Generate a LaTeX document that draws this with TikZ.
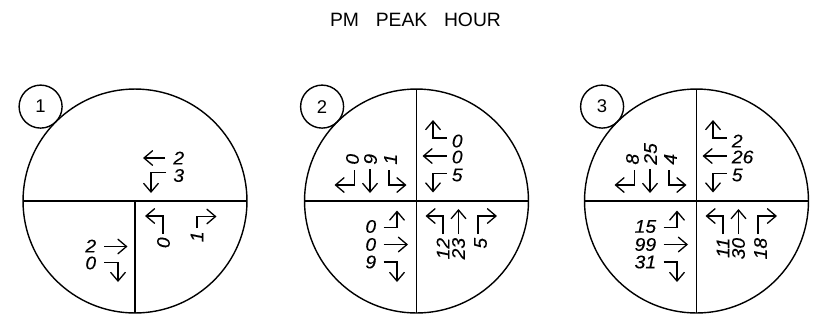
\documentclass[tikz,border=0pt]{standalone}
\usepackage{fontspec}
\setmainfont{Liberation Sans}
\newfontfamily\volfont[FakeStretch=1.06, FakeBold=0.2]{Liberation Sans}
\usetikzlibrary{arrows.meta}

% Turning-movement volumes, one circle per intersection.
% Movement arrows and counts are placed relative to the circle centre.
\tikzset{
  ring/.style={line width=0.8pt},
  mv/.style={line width=0.75pt, -{Straight Barb[length=5pt,width=8.5pt]}},
  vol/.style={font=\volfont\itshape\fontsize{10.4}{12}\selectfont, inner sep=0pt},
  volE/.style={vol, anchor=west},
  volW/.style={vol, anchor=east},
  volN/.style={vol, rotate=90, anchor=west},
  volS/.style={vol, rotate=90, anchor=east},
  tag/.style={circle, draw, line width=0.8pt, minimum size=0.86cm, inner sep=0pt,
              font=\fontsize{10.5}{12}\selectfont},
}

% north leg (southbound): right, through, left
\newcommand{\legNorth}[4]{%
  \draw[mv] (-62,-31) -- (-62,-16) -- (-82,-16);
  \draw[mv] (-46.5,-32) -- (-46.5,-8);
  \draw[mv] (-27.5,-31) -- (-27.5,-16) -- (-10,-16);
  \node[volN] (#1nr) at (-64,-36) {#2};
  \node[volN] (#1nt) at (-46,-36) {#3};
  \node[volN] (#1nl) at (-26,-36) {#4};
}
% east leg (westbound): right, through, left
\newcommand{\legEast}[4]{%
  \draw[mv] (30,-63) -- (16.5,-63) -- (16.5,-81);
  \draw[mv] (30,-45) -- (6,-45);
  \draw[mv] (30,-27.5) -- (16.5,-27.5) -- (16.5,-8.5);
  \node[volE] (#1er) at (35,-60) {#2};
  \node[volE] (#1et) at (35,-44) {#3};
  \node[volE] (#1el) at (35,-26) {#4};
}
% west leg (eastbound): left, through, right
\newcommand{\legWest}[4]{%
  \draw[mv] (-33,26.5) -- (-19.5,26.5) -- (-19.5,9.5);
  \draw[mv] (-33,43.5) -- (-8.5,43.5);
  \draw[mv] (-33,61) -- (-19.5,61) -- (-19.5,81);
  \node[volW] (#1wl) at (-40,25.5) {#2};
  \node[volW] (#1wt) at (-40,43.5) {#3};
  \node[volW] (#1wr) at (-40,61) {#4};
}
% south leg (northbound): left, through, right
\newcommand{\legSouth}[4]{%
  \draw[mv] (26.5,33) -- (26.5,15) -- (9,15);
  \draw[mv] (42,33) -- (42,8);
  \draw[mv] (61.5,33) -- (61.5,15) -- (80.5,15);
  \node[volS] (#1sl) at (26.5,36.5) {#2};
  \node[volS] (#1st) at (42,36.5) {#3};
  \node[volS] (#1sr) at (64,36.5) {#4};
}

\begin{document}
\begin{tikzpicture}[x=0.02cm, y=-0.02cm]
\useasboundingbox (0,0) rectangle (817,322);

\node[anchor=base, inner sep=0pt, font=\fontsize{11}{13}\selectfont] (title)
  at (415.5,26.7) {PM\hspace{9.5pt}PEAK\hspace{9.5pt}HOUR};

% ---- intersection 1 (T junction) ----
\begin{scope}[shift={(135,201)}]
  \draw[ring] (0,0) circle[radius=2.24cm];
  \draw[ring] (-112,0) -- (112,0);
  \draw[ring] (0,0) -- (0,112);
  \node[tag] (tag1) at (-94.4,-94.4) {1};
  % east leg
  \draw[mv] (30,-43) -- (8,-43);
  \draw[mv] (31,-28.5) -- (16,-28.5) -- (16,-8);
  \node[volE] (c1et) at (38,-43) {2};
  \node[volE] (c1el) at (38,-25.5) {3};
  % west leg
  \draw[mv] (-31,45.5) -- (-7.5,45.5);
  \draw[mv] (-31,61.5) -- (-17,61.5) -- (-17,81);
  \node[volW] (c1wt) at (-38.5,45) {2};
  \node[volW] (c1wr) at (-38.5,62) {0};
  % south leg
  \draw[mv] (28,32.5) -- (28,15) -- (10,15);
  \draw[mv] (62,27) -- (62,15.5) -- (81.5,15.5);
  \node[volS] (c1sl) at (28.5,36) {0};
  \node[volS] (c1sr) at (62,30) {1};
\end{scope}

% ---- intersection 2 ----
\begin{scope}[shift={(416.5,201)}]
  \draw[ring] (0,0) circle[radius=2.24cm];
  \draw[ring] (-112,0) -- (112,0);
  \draw[ring] (0,-112) -- (0,112);
  \node[tag] (tag2) at (-94.4,-94.4) {2};
  \legNorth{c2}{0}{9}{1}
  \legEast{c2}{0}{0}{5}
  \legWest{c2}{0}{0}{9}
  \legSouth{c2}{12}{23}{5}
\end{scope}

% ---- intersection 3 ----
\begin{scope}[shift={(696.5,201)}]
  \draw[ring] (0,0) circle[radius=2.24cm];
  \draw[ring] (-112,0) -- (112,0);
  \draw[ring] (0,-112) -- (0,112);
  \node[tag] (tag3) at (-94.4,-94.4) {3};
  \legNorth{c3}{8}{25}{4}
  \legEast{c3}{2}{26}{5}
  \legWest{c3}{15}{99}{31}
  \legSouth{c3}{11}{30}{18}
\end{scope}
\end{tikzpicture}
\end{document}
